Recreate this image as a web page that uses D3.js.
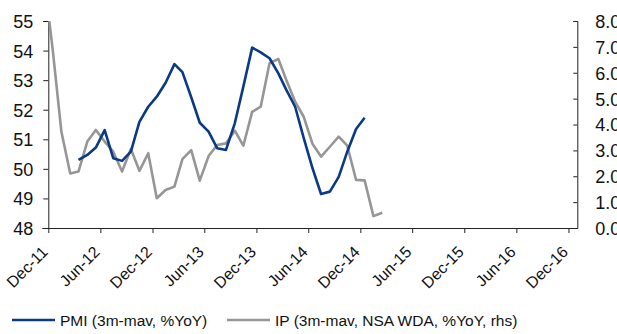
<!DOCTYPE html>
<html>
<head>
<meta charset="utf-8">
<script src="https://cdn.jsdelivr.net/npm/d3@7"></script>
<style>
  html, body { margin: 0; padding: 0; background: #fff; }
  svg { display: block; font-family: "Liberation Sans", Arial, sans-serif; }
</style>
</head>
<body>
<svg id="chart" width="617" height="334"></svg>
<script>
// Monthly observations (mid-month), IP series starts Nov-11, PMI series starts Mar-12
const ipStart = "2011-11";
const ipValues = [9.7, 6.94, 3.72, 2.11, 2.18, 3.34, 3.79, 3.34, 2.95, 2.18,
  3.05, 2.21, 2.89, 1.15, 1.47, 1.60, 2.66, 3.01, 1.83, 2.78,
  3.21, 3.27, 3.76, 3.18, 4.49, 4.69, 6.37, 6.53, 5.72, 4.88,
  4.30, 3.25, 2.76, 3.14, 3.53, 3.18, 1.86, 1.84, 0.46, 0.59];

const pmiStart = "2012-03";
const pmiValues = [50.30, 50.47, 50.72, 51.31, 50.36, 50.27, 50.58, 51.59, 52.10, 52.44,
  52.91, 53.54, 53.27, 52.42, 51.56, 51.26, 50.70, 50.64, 51.54, 52.78,
  54.10, 53.94, 53.74, 53.23, 52.67, 52.10, 51.05, 50.02, 49.15, 49.23,
  49.73, 50.58, 51.35, 51.73];

const xTickLabels = ["Dec-11", "Jun-12", "Dec-12", "Jun-13", "Dec-13", "Jun-14",
  "Dec-14", "Jun-15", "Dec-15", "Jun-16", "Dec-16"];
const leftTicks = [48, 49, 50, 51, 52, 53, 54, 55];
const rightTicks = [0, 1, 2, 3, 4, 5, 6, 7, 8];
const seriesNames = ["PMI (3m-mav, %YoY)", "IP (3m-mav, NSA WDA, %YoY, rhs)"];
const seriesColors = ["#0b3a84", "#969696"];

const parseMonth = d3.timeParse("%Y-%m");
const parseTick = d3.timeParse("%b-%y");
const fmtTick = d3.timeFormat("%b-%y");

function toSeries(start, values) {
  const s = parseMonth(start);
  return values.map((v, i) => ({
    date: d3.timeDay.offset(d3.timeMonth.offset(s, i), 15),
    value: v
  }));
}
const ip = toSeries(ipStart, ipValues);
const pmi = toSeries(pmiStart, pmiValues);

const plot = { left: 48.3, right: 577.3, top: 21, bottom: 228 };

const x = d3.scaleTime()
  .domain([new Date(2011, 11, 1), new Date(2017, 0, 1)])
  .range([plot.left, plot.right]);
const yL = d3.scaleLinear().domain([48, 55]).range([plot.bottom, plot.top]);
const yR = d3.scaleLinear().domain([0, 8]).range([plot.bottom, plot.top]);

const svg = d3.select("#chart");

svg.append("defs").append("clipPath").attr("id", "plotClip")
  .append("rect")
  .attr("x", plot.left).attr("y", plot.top)
  .attr("width", plot.right - plot.left)
  .attr("height", plot.bottom - plot.top);

// Left axis
const gL = svg.append("g")
  .attr("transform", `translate(${plot.left},0)`)
  .call(d3.axisLeft(yL).tickValues(leftTicks).tickSize(5).tickPadding(10).tickFormat(d3.format("d")));
gL.selectAll("text").attr("font-size", 18).attr("fill", "#111").attr("dy", "0.36em");

// Right axis: ticks point inward
const gR = svg.append("g")
  .attr("transform", `translate(${plot.right},0)`)
  .call(d3.axisRight(yR).tickValues(rightTicks).tickSize(-4).tickPadding(18).tickFormat(d3.format(".1f")));
gR.selectAll("text").attr("font-size", 18).attr("fill", "#111").attr("dy", "0.36em");

// Bottom axis
const gB = svg.append("g")
  .attr("transform", `translate(0,${plot.bottom})`)
  .call(d3.axisBottom(x).tickValues(xTickLabels.map(parseTick)).tickSize(5).tickFormat(fmtTick));
gB.select(".domain").attr("d", `M${plot.left - 6},0.5H${plot.right}`);
gB.selectAll("text")
  .attr("font-size", 16)
  .attr("fill", "#111")
  .attr("text-anchor", "end")
  .attr("x", 0).attr("y", 0).attr("dy", 0)
  .attr("transform", "translate(0,25) rotate(-45)");

svg.selectAll(".domain, .tick line").attr("stroke", "#222");

// Series lines
const lineL = d3.line().x(d => x(d.date)).y(d => yL(d.value));
const lineR = d3.line().x(d => x(d.date)).y(d => yR(d.value));

const lines = svg.append("g").attr("clip-path", "url(#plotClip)");
lines.append("path").datum(ip)
  .attr("d", lineR).attr("fill", "none")
  .attr("stroke", seriesColors[1]).attr("stroke-width", 2.6)
  .attr("stroke-linejoin", "round");
lines.append("path").datum(pmi)
  .attr("d", lineL).attr("fill", "none")
  .attr("stroke", seriesColors[0]).attr("stroke-width", 2.6)
  .attr("stroke-linejoin", "round");

// Legend
const legendItems = [
  { x: 12, name: seriesNames[0], color: seriesColors[0] },
  { x: 227, name: seriesNames[1], color: seriesColors[1] }
];
const lg = svg.append("g").attr("transform", "translate(0,320)");
legendItems.forEach(it => {
  lg.append("line").attr("x1", it.x).attr("x2", it.x + 43).attr("y1", 0).attr("y2", 0)
    .attr("stroke", it.color).attr("stroke-width", 2.6);
  lg.append("text").attr("x", it.x + 48).attr("y", 5.5)
    .attr("font-size", 15.5).attr("fill", "#111").text(it.name);
});
</script>
</body>
</html>
